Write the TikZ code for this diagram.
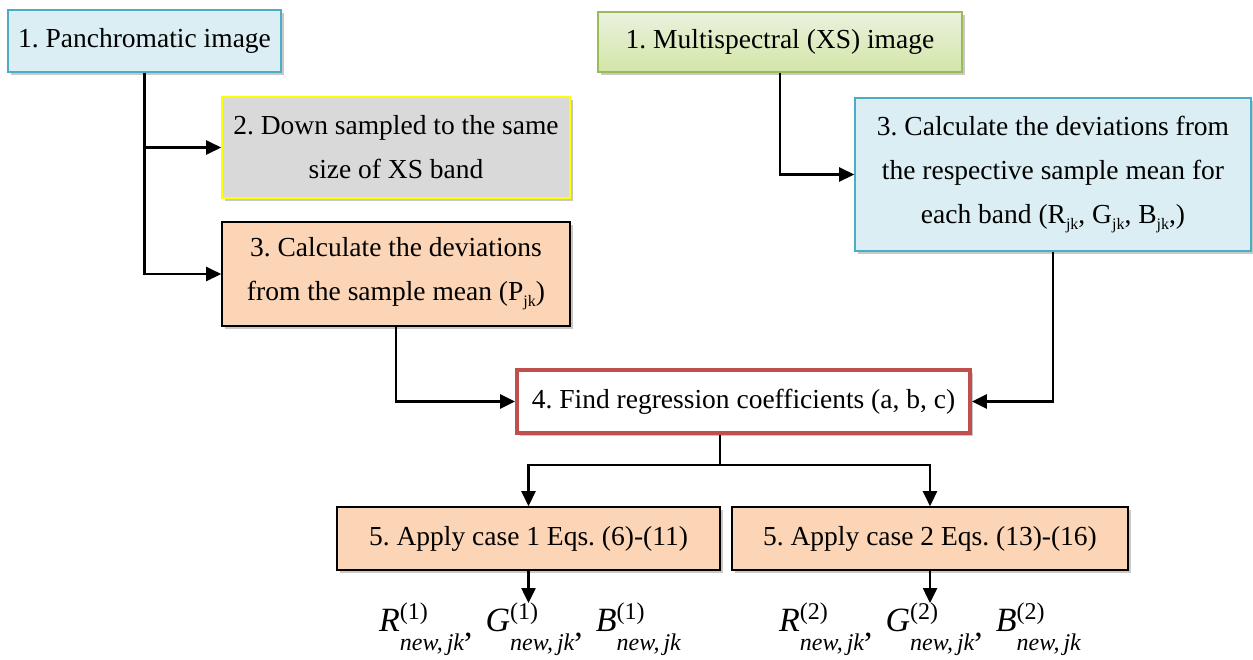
\documentclass[tikz,border=0pt]{standalone}
\usepackage{fontspec}
\setmainfont{Liberation Serif}
\usetikzlibrary{arrows.meta,shadows}
\definecolor{panfill}{HTML}{DAEEF3}
\definecolor{panline}{HTML}{4BACC6}
\definecolor{grayfill}{HTML}{D9D9D9}
\definecolor{yelline}{HTML}{FFFF00}
\definecolor{peach}{HTML}{FBD5B5}
\definecolor{greentop}{HTML}{EBF1DE}
\definecolor{greenbot}{HTML}{D2E6A8}
\definecolor{greenline}{HTML}{9BBB59}
\definecolor{redline}{HTML}{C0504D}
\newcommand\vterm[2]{{\itshape #1}\rlap{\raisebox{12pt}{\fontsize{24}{24}\selectfont(#2)}}\raisebox{-19pt}{\fontsize{24}{24}\selectfont\itshape new,\,jk}}
\newcommand\vsep{\raisebox{-5pt}{,}\hspace{13pt}}
\newcommand\sjk{\raisebox{-6pt}{\fontsize{16}{16}\selectfont jk}}
\begin{document}
\frenchspacing
\begin{tikzpicture}[x=1pt,y=-1pt,
  box/.style={draw, line width=1.6pt, align=center, inner sep=0pt,
    font=\fontsize{27.5}{44}\selectfont\frenchspacing,
    drop shadow={shadow xshift=3pt,shadow yshift=-3pt,opacity=0.3,fill=black!70}},
  conn/.style={line width=2.5pt, -{Triangle[length=15pt,width=14pt]}},
  plainline/.style={line width=2.5pt}]
\useasboundingbox[fill=white] (0,0) rectangle (1253,659);

\node[box, fill=panfill, draw=panline, minimum width=273pt, minimum height=62pt] (pan) at (144.5,41) {1. Panchromatic image};
\node[box, fill=grayfill, draw=yelline, minimum width=348pt, minimum height=101pt] (down) at (396,147.5) {2. Down sampled to the same\\size of XS band};
\node[box, fill=peach, draw=black, minimum width=348pt, minimum height=104pt] (calcP) at (396,274) {3. Calculate the deviations\\from the sample mean (P\sjk)};
\node[box, top color=greentop, bottom color=greenbot, draw=greenline, minimum width=364pt, minimum height=60pt] (xs) at (780,42) {1. Multispectral (XS) image};
\node[box, fill=panfill, draw=panline, minimum width=396pt, minimum height=153pt] (calcRGB) at (1053,174.5) {3. Calculate the deviations from\\the respective sample mean for\\each band (R\sjk, G\sjk, B\sjk,)};
\node[box, fill=white, draw=redline, line width=3.8pt, minimum width=453pt, minimum height=63pt] (find) at (743.5,401.5) {4. Find regression coefficients (a, b, c)};
\node[box, fill=peach, draw=black, minimum width=383pt, minimum height=63pt] (case1) at (528.5,538.5) {5. Apply case 1 Eqs. (6)-(11)};
\node[box, fill=peach, draw=black, minimum width=396pt, minimum height=63pt] (case2) at (930,538.5) {5. Apply case 2 Eqs. (13)-(16)};

\node[font=\fontsize{34}{34}\selectfont, inner sep=0pt, anchor=north] (out1) at (530,603) {\vterm{R}{1}\vsep\vterm{G}{1}\vsep\vterm{B}{1}};
\node[font=\fontsize{34}{34}\selectfont, inner sep=0pt, anchor=north] (out2) at (930,603) {\vterm{R}{2}\vsep\vterm{G}{2}\vsep\vterm{B}{2}};

\draw[conn] (pan.south) |- (down.west);
\draw[conn] (pan.south) |- (calcP.west);
\draw[conn] (xs.south) |- (calcRGB.west);
\draw[conn] (calcP.south) |- (find.west);
\draw[conn] (calcRGB.south) |- (find.east);

\coordinate (fj) at (720,465);
\draw[plainline] (find.south -| fj) -- (fj);
\draw[conn] (fj) -| (case1.north);
\draw[conn] (fj) -| (case2.north);
\draw[conn] (case1.south) -- (case1.south |- out1.north);
\draw[conn] (case2.south) -- (case2.south |- out2.north);
\end{tikzpicture}
\end{document}
